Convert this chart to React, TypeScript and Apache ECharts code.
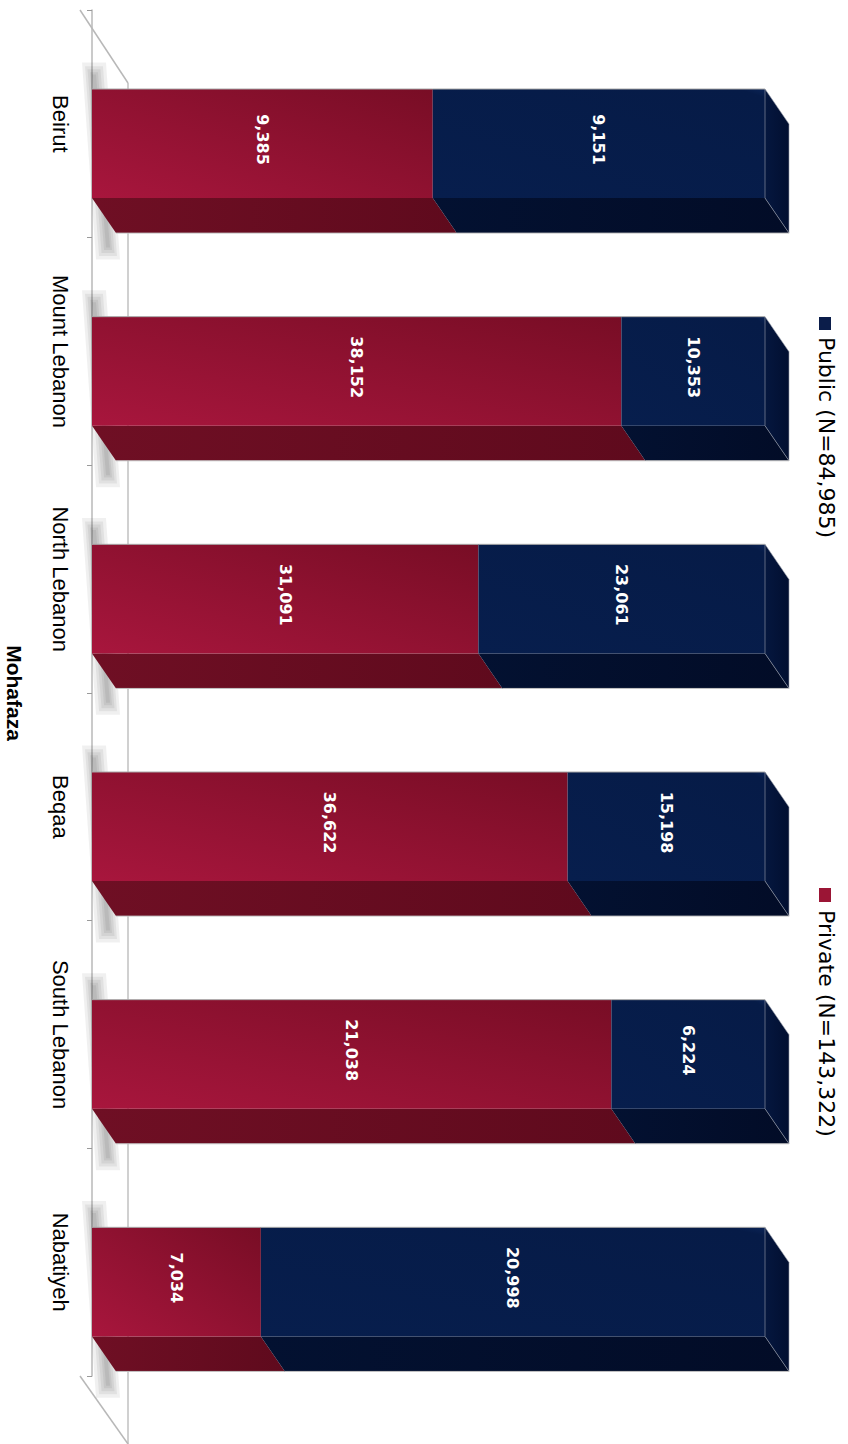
import React, { useEffect, useRef } from "react";
import * as echarts from "echarts";

const categories = ["Beirut", "Mount Lebanon", "North Lebanon", "Beqaa", "South Lebanon", "Nabatiyeh"];
const privateValues = [9385, 38152, 31091, 36622, 21038, 7034];
const publicValues = [9151, 10353, 23061, 15198, 6224, 20998];
const legendLabels = ["Public (N=84,985)", "Private (N=143,322)"];
const axisTitle = "Mohafaza";

const fmt = (v: number) => v.toLocaleString("en-US");

function makeRender(isPublic: boolean) {
  return (params: any, api: any) => {
    const cat = api.value(0);
    const s = api.value(1);
    const e = api.value(2);
    const v = api.value(3);
    const a = api.coord([s, cat]);
    const b = api.coord([e, cat]);
    const band = api.size([0, 1])[1];
    const cy = a[1];
    const top = cy - band * 0.153;
    const fb = cy + band * 0.326;
    const dx = 24;
    const dy = band * 0.154;
    const x0 = a[0];
    const x1 = b[0];
    const children: any[] = [];
    if (!isPublic) {
      const widths = [24, 18, 13, 8, 4];
      widths.forEach((w) => {
        children.push({
          type: "polygon",
          shape: {
            points: [
              [x0 + 2 - w / 2, top - 12 - w * 0.6],
              [x0 + 2 + w / 2, top - 12 - w * 0.6],
              [x0 + dx - 8 + w / 2, fb + dy + 12 + w * 0.6],
              [x0 + dx - 8 - w / 2, fb + dy + 12 + w * 0.6],
            ],
          },
          style: { fill: "rgba(0,0,0,0.06)" },
        });
      });
    }
    children.push({
      type: "polygon",
      shape: { points: [[x0, fb], [x1, fb], [x1 + dx, fb + dy], [x0 + dx, fb + dy]] },
      style: {
        fill: isPublic
          ? new echarts.graphic.LinearGradient(0, 0, 1, 0, [
              { offset: 0, color: "#031131" },
              { offset: 1, color: "#020c27" },
            ])
          : new echarts.graphic.LinearGradient(0, 0, 1, 0, [
              { offset: 0, color: "#6f0f24" },
              { offset: 1, color: "#5f0a1d" },
            ]),
      },
    });
    children.push({
      type: "rect",
      shape: { x: x0, y: top, width: x1 - x0, height: fb - top },
      style: {
        fill: isPublic
          ? new echarts.graphic.LinearGradient(0, 1, 1, 0, [
              { offset: 0, color: "#071e4d" },
              { offset: 0.96, color: "#061b47" },
              { offset: 1, color: "#0b2457" },
            ])
          : new echarts.graphic.LinearGradient(0, 1, 1, 0, [
              { offset: 0, color: "#a8163d" },
              { offset: 1, color: "#780d25" },
            ]),
      },
    });
    if (isPublic) {
      children.push({
        type: "polygon",
        shape: { points: [[x1, top], [x1 + dx, top + dy], [x1 + dx, fb + dy], [x1, fb]] },
        style: {
          fill: new echarts.graphic.LinearGradient(0, 0, 1, 0, [
            { offset: 0, color: "#05173f" },
            { offset: 1, color: "#020f30" },
          ]),
          stroke: "#9aa0ab",
          lineWidth: 0.6,
        },
      });
    }
    children.push({
      type: "line",
      shape: { x1: x0, y1: top, x2: x1, y2: top },
      style: { stroke: "#a8a8a8", lineWidth: 1 },
    });
    children.push({
      type: "line",
      shape: { x1: x0 + dx, y1: fb + dy, x2: x1 + dx, y2: fb + dy },
      style: { stroke: "#c4c4c4", lineWidth: 1 },
    });
    children.push({
      type: "text",
      x: (x0 + x1) / 2,
      y: (top + fb) / 2 - 4,
      rotation: -Math.PI / 2,
      style: {
        text: fmt(v),
        fill: "#ffffff",
        fontSize: 16,
        fontWeight: "bold",
        fontFamily: "DejaVu Sans, Verdana, sans-serif",
        align: "center",
        verticalAlign: "middle",
      },
    });
    return { type: "group", children };
  };
}

export default function App() {
  const ref = useRef<HTMLDivElement>(null);
  useEffect(() => {
    document.body.style.margin = "0";
    const chart = echarts.init(ref.current!, undefined, { renderer: "svg" });
    const privData = categories.map((_, i) => {
      const t = privateValues[i] + publicValues[i];
      return [i, 0, privateValues[i] / t, privateValues[i]];
    });
    const pubData = categories.map((_, i) => {
      const t = privateValues[i] + publicValues[i];
      return [i, privateValues[i] / t, 1, publicValues[i]];
    });
    const legendFont = {
      fontSize: 22,
      fontFamily: "DejaVu Sans, Verdana, sans-serif",
      fill: "#000",
      align: "left",
      verticalAlign: "middle",
    };
    chart.setOption({
      animation: false,
      backgroundColor: "#ffffff",
      grid: { left: 92, right: 83, top: 10, bottom: 68, containLabel: false, outerBoundsMode: "none" },
      xAxis: { type: "value", min: 0, max: 1, show: false },
      yAxis: {
        type: "category",
        data: categories,
        inverse: true,
        offset: 12,
        axisLine: { show: true, lineStyle: { color: "#b8b8b8", width: 1.5 } },
        axisTick: { show: true, length: 5, lineStyle: { color: "#9a9a9a" } },
        axisLabel: {
          rotate: -90,
          fontSize: 22,
          color: "#000",
          fontFamily: "Liberation Sans, Arial, sans-serif",
          margin: 9,
        },
        splitLine: { show: false },
        name: axisTitle,
        nameLocation: "middle",
        nameRotate: -90,
        nameGap: 55,
        nameTextStyle: {
          fontWeight: "bold",
          fontSize: 21,
          color: "#000",
          fontFamily: "Liberation Sans, Arial, sans-serif",
        },
      },
      graphic: [
        { type: "line", z: 0, shape: { x1: 80, y1: 10, x2: 128, y2: 83 }, style: { stroke: "#b8b8b8", lineWidth: 1.5 } },
        { type: "line", z: 0, shape: { x1: 128, y1: 83, x2: 128, y2: 1444 }, style: { stroke: "#c0c0c0", lineWidth: 1.5 } },
        { type: "line", z: 0, shape: { x1: 80, y1: 1376, x2: 128, y2: 1444 }, style: { stroke: "#b8b8b8", lineWidth: 1.5 } },
        { type: "rect", z: 10, shape: { x: 819, y: 317, width: 12, height: 13 }, style: { fill: "#0b1d4a" } },
        { type: "text", z: 10, x: 826, y: 337, rotation: -Math.PI / 2, style: { ...legendFont, text: legendLabels[0] } },
        { type: "rect", z: 10, shape: { x: 819, y: 888, width: 12, height: 14 }, style: { fill: "#9b1535" } },
        { type: "text", z: 10, x: 826, y: 910, rotation: -Math.PI / 2, style: { ...legendFont, text: legendLabels[1] } },
      ],
      series: [
        {
          name: "Private",
          type: "custom",
          z: 2,
          renderItem: makeRender(false),
          encode: { x: [1, 2], y: 0 },
          data: privData,
        },
        {
          name: "Public",
          type: "custom",
          z: 3,
          renderItem: makeRender(true),
          encode: { x: [1, 2], y: 0 },
          data: pubData,
        },
      ],
    });
    return () => chart.dispose();
  }, []);
  return <div ref={ref} style={{ width: 848, height: 1444 }} />;
}
